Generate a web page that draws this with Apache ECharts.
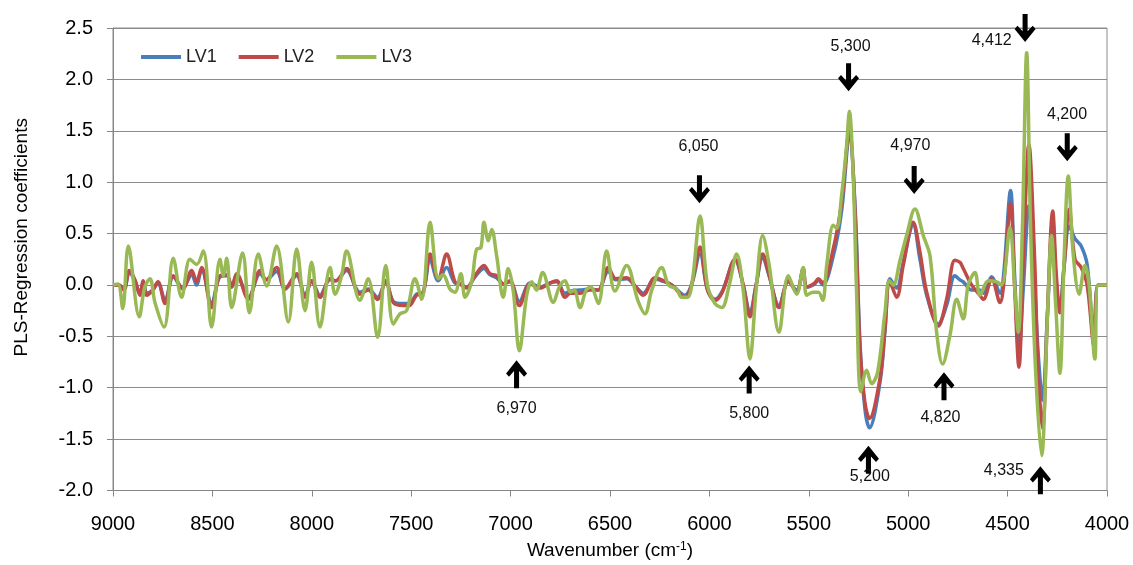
<!DOCTYPE html>
<html>
<head>
<meta charset="utf-8">
<script src="https://cdn.jsdelivr.net/npm/echarts@6/dist/echarts.min.js"></script>
<style>
  html, body { margin: 0; padding: 0; background: #fff; }
  #chart { width: 1133px; height: 565px; }
</style>
</head>
<body>
<div id="chart"></div>
<script>
// Wavenumbers (cm-1) and PLS regression coefficients, LV3 model
const wnLV3 = [9000, 8975, 8951, 8923, 8868, 8840, 8814, 8789, 8743, 8697, 8655, 8613, 8579, 8546, 8504, 8462, 8445, 8428, 8403, 8348,
  8314, 8269, 8227, 8177, 8118, 8076, 8034, 8001, 7959, 7908, 7883, 7850, 7825, 7758, 7716, 7669, 7628, 7590, 7556, 7523,
  7481, 7447, 7405, 7364, 7340, 7305, 7280, 7250, 7229, 7196, 7171, 7150, 7134, 7112, 7095, 7070, 7037, 7012, 6986, 6956,
  6919, 6894, 6870, 6839, 6785, 6755, 6726, 6700, 6680, 6651, 6620, 6597, 6559, 6517, 6475, 6416, 6360, 6324, 6290, 6240,
  6205, 6165, 6140, 6110, 6085, 6047, 6010, 5972, 5938, 5900, 5863, 5830, 5796, 5765, 5732, 5700, 5650, 5603, 5561, 5528,
  5511, 5480, 5452, 5430, 5410, 5377, 5360, 5335, 5310, 5296, 5276, 5260, 5238, 5209, 5184, 5154, 5117, 5095, 5075, 5041,
  5008, 4966, 4924, 4890, 4857, 4827, 4790, 4756, 4723, 4698, 4664, 4639, 4597, 4555, 4530, 4488, 4465, 4446, 4425, 4404,
  4385, 4360, 4329, 4300, 4279, 4258, 4237, 4215, 4195, 4170, 4140, 4111, 4090, 4061, 4044, 4000];
const lv3 = [0, 0.01, -0.23, 0.38, -0.31, -0.02, 0.06, -0.17, -0.41, 0.26, -0.12, 0.25, 0.20, 0.33, -0.41, 0.25, 0.09, 0.26, -0.22, 0.31,
  -0.27, 0.30, -0.01, 0.38, -0.36, 0.35, -0.25, 0.22, -0.41, 0.17, -0.09, 0.09, 0.33, -0.15, 0.06, -0.51, 0.19, -0.38, -0.28, -0.25,
  0.06, -0.14, 0.61, 0.06, 0.10, -0.04, -0.07, 0.11, -0.12, 0.03, 0.35, 0.36, 0.61, 0.43, 0.54, 0.28, -0.12, 0.16, -0.07, -0.64,
  -0.10, 0.03, -0.05, 0.12, -0.17, -0.02, 0.04, -0.07, -0.05, -0.22, -0.05, -0.02, -0.18, 0.33, -0.06, 0.19, -0.15, -0.28, -0.05, 0.17,
  0.0, -0.04, -0.12, -0.12, 0.05, 0.67, 0.0, -0.18, -0.22, 0.0, 0.30, -0.05, -0.72, -0.05, 0.48, 0.20, -0.46, 0.09, -0.09, 0.17,
  -0.10, -0.07, -0.07, -0.15, 0.19, 0.58, 0.55, 0.87, 1.35, 1.69, 1.03, -0.05, -1.04, -0.83, -0.96, -0.85, -0.27, 0.04, 0.0, 0.24,
  0.48, 0.74, 0.48, 0.28, -0.46, -0.77, -0.49, -0.14, -0.33, 0.0, 0.12, -0.10, 0.04, 0.03, 0.0, 0.56, 0.0, -0.46, 0.60, 2.26,
  0.60, -0.80, -1.66, -0.33, 0.48, -0.20, -0.86, 0.30, 1.06, 0.30, -0.09, 0.19, 0.0, -0.72, 0.0, 0.0];

// Wavenumbers shared by the LV1 and LV2 models
const wnLV12 = [9000, 8970, 8945, 8918, 8890, 8864, 8848, 8830, 8800, 8774, 8738, 8697, 8649, 8604, 8580, 8554, 8504, 8462, 8428, 8403,
  8378, 8319, 8260, 8230, 8177, 8135, 8076, 8034, 8001, 7959, 7908, 7880, 7825, 7758, 7716, 7669, 7628, 7590, 7540, 7510,
  7473, 7440, 7405, 7364, 7322, 7280, 7255, 7221, 7179, 7134, 7104, 7070, 7037, 7003, 6956, 6902, 6852, 6800, 6768, 6726,
  6700, 6651, 6600, 6560, 6509, 6470, 6416, 6370, 6333, 6274, 6240, 6190, 6123, 6090, 6047, 6010, 5972, 5935, 5871, 5830,
  5796, 5765, 5732, 5700, 5650, 5603, 5561, 5528, 5511, 5470, 5452, 5430, 5377, 5335, 5296, 5267, 5243, 5218, 5195, 5142,
  5117, 5092, 5058, 5025, 4975, 4941, 4907, 4849, 4807, 4765, 4740, 4723, 4681, 4640, 4622, 4580, 4538, 4520, 4485, 4465,
  4443, 4420, 4393, 4365, 4345, 4324, 4300, 4273, 4255, 4237, 4215, 4190, 4161, 4130, 4100, 4065, 4044, 4000];
const lv2 = [0, 0.0, -0.05, 0.14, 0.05, -0.10, 0.04, -0.10, -0.05, 0.03, -0.18, 0.09, -0.04, 0.14, 0.03, 0.17, -0.22, 0.09, 0.10, -0.02,
  0.11, -0.14, 0.14, 0.05, 0.17, -0.04, 0.11, -0.12, 0.04, -0.12, 0.06, 0.04, 0.16, -0.09, -0.05, -0.14, 0.04, -0.17, -0.20, -0.20,
  -0.10, -0.08, 0.30, 0.06, 0.30, 0.03, 0.01, -0.03, 0.09, 0.19, 0.11, 0.09, 0.01, 0.04, -0.20, 0.01, -0.03, 0.02, 0.04, -0.12,
  -0.08, -0.08, -0.05, -0.05, 0.17, 0.06, 0.07, -0.02, -0.10, 0.07, 0.05, 0.0, -0.12, 0.0, 0.37, -0.05, -0.15, -0.07, 0.25, 0.0,
  -0.31, 0.0, 0.30, 0.10, -0.22, 0.04, -0.07, 0.16, -0.02, 0.02, 0.06, 0.02, 0.35, 0.80, 1.51, 0.70, -0.59, -1.14, -1.30, -0.91,
  -0.43, 0.03, -0.12, 0.19, 0.61, 0.32, -0.07, -0.40, -0.14, 0.24, 0.22, 0.16, 0.0, -0.10, -0.14, 0.06, -0.17, 0.0, 0.79, 0.0,
  -0.80, 0.30, 1.37, 0.30, -0.90, -1.40, -0.30, 0.72, 0.10, -0.27, 0.20, 0.74, 0.25, 0.17, 0.0, -0.60, 0.0, 0.0];
const lv1 = [0, 0.0, -0.04, 0.12, 0.04, -0.09, 0.03, -0.08, -0.05, 0.02, -0.15, 0.08, -0.03, 0.10, 0.0, 0.15, -0.18, 0.08, 0.09, -0.02,
  0.10, -0.12, 0.11, 0.05, 0.13, -0.04, 0.09, -0.10, 0.04, -0.10, 0.05, 0.04, 0.14, -0.07, -0.04, -0.12, 0.03, -0.16, -0.18, -0.18,
  -0.09, -0.07, 0.25, 0.04, 0.17, 0.02, 0.01, -0.02, 0.08, 0.16, 0.10, 0.07, 0.01, 0.03, -0.16, 0.02, -0.02, 0.02, 0.03, -0.08,
  -0.06, -0.05, -0.04, -0.05, 0.13, 0.05, 0.06, -0.02, -0.08, 0.06, 0.04, 0.0, -0.10, 0.0, 0.30, -0.04, -0.14, -0.06, 0.24, 0.0,
  -0.27, 0.0, 0.27, 0.09, -0.20, 0.03, -0.05, 0.14, -0.02, 0.01, 0.05, 0.0, 0.28, 0.72, 1.45, 0.75, -0.55, -1.20, -1.39, -0.95,
  -0.45, 0.06, -0.03, 0.22, 0.58, 0.25, -0.10, -0.38, -0.20, 0.09, 0.05, 0.03, -0.05, -0.05, -0.08, 0.08, -0.08, 0.10, 0.92, 0.10,
  -0.65, 0.0, 0.77, 0.0, -0.70, -1.12, -0.30, 0.62, 0.0, -0.22, 0.20, 0.57, 0.45, 0.38, 0.20, -0.50, 0.0, 0.0];

// Assigned bands: arrow direction, arrow centre and caption position (axis units)
const bands = [
  { wn: 6970, dir: 'up',   arrowAt: -0.87, textWn: 6970, textAt: -1.20 },
  { wn: 6050, dir: 'down', arrowAt: 0.93,  textWn: 6055, textAt: 1.35 },
  { wn: 5800, dir: 'up',   arrowAt: -0.92, textWn: 5800, textAt: -1.25 },
  { wn: 5300, dir: 'down', arrowAt: 2.02,  textWn: 5290, textAt: 2.32 },
  { wn: 5200, dir: 'up',   arrowAt: -1.70, textWn: 5193, textAt: -1.86 },
  { wn: 4970, dir: 'down', arrowAt: 1.02,  textWn: 4989, textAt: 1.36 },
  { wn: 4820, dir: 'up',   arrowAt: -0.985, textWn: 4838, textAt: -1.29 },
  { wn: 4412, dir: 'down', arrowAt: 2.50,  textWn: 4580, textAt: 2.38 },
  { wn: 4200, dir: 'down', arrowAt: 1.34,  textWn: 4201, textAt: 1.66 },
  { wn: 4335, dir: 'up',   arrowAt: -1.90, textWn: 4519, textAt: -1.81 }
];

const FONT = '"Liberation Sans", Arial, sans-serif';
const ARROW_DOWN = 'path://M9.5 0 H15.5 V18.5 L21.5 12.5 L25 16 L12.5 30 L0 16 L3.5 12.5 L9.5 18.5 Z';
const ARROW_UP = 'path://M9.5 30 H15.5 V11.5 L21.5 17.5 L25 14 L12.5 0 L0 14 L3.5 17.5 L9.5 11.5 Z';

const pairs = (xs, ys) => xs.map((x, i) => [x, ys[i]]);
const thousands = n => String(n).replace(/\B(?=(\d{3})+(?!\d))/g, ',');

function lineSeries(name, xs, ys, color) {
  return {
    name: name,
    type: 'line',
    data: pairs(xs, ys),
    showSymbol: false,
    smooth: 0.35,
    lineStyle: { width: 3.5, color: color },
    itemStyle: { color: color },
    emphasis: { disabled: true }
  };
}

const sLV1 = lineSeries('LV1', wnLV12, lv1, '#4A7EBB');
const sLV2 = lineSeries('LV2', wnLV12, lv2, '#BE4B48');
const sLV3 = lineSeries('LV3', wnLV3, lv3, '#98B954');

// Band captions
sLV2.markPoint = {
  symbol: 'circle',
  symbolSize: 1,
  itemStyle: { color: 'rgba(0,0,0,0)' },
  label: {
    show: true, position: 'inside', color: '#111', fontSize: 16, fontFamily: FONT,
    formatter: p => thousands(p.value)
  },
  emphasis: { disabled: true },
  data: bands.map(b => ({ coord: [b.textWn, b.textAt], value: b.wn }))
};

// Band arrows
sLV3.markPoint = {
  symbolSize: [21, 28],
  itemStyle: { color: '#000' },
  label: { show: false },
  emphasis: { disabled: true },
  data: bands.map(b => ({ coord: [b.wn, b.arrowAt], symbol: b.dir === 'up' ? ARROW_UP : ARROW_DOWN }))
};

const chart = echarts.init(document.getElementById('chart'));
chart.setOption({
  animation: false,
  backgroundColor: '#fff',
  textStyle: { fontFamily: FONT },
  grid: { left: 113, right: 26, top: 28, bottom: 74, show: true, borderColor: '#8c8c8c', borderWidth: 1 },
  legend: {
    data: ['LV1', 'LV2', 'LV3'],
    left: 136, top: 43,
    icon: 'rect', itemWidth: 40, itemHeight: 4, itemGap: 22,
    textStyle: { fontSize: 18, color: '#222', fontFamily: FONT }
  },
  xAxis: {
    type: 'value', min: 4000, max: 9000, interval: 500, inverse: true,
    axisLine: { onZero: false, lineStyle: { color: '#868686' } },
    axisTick: { length: 6, lineStyle: { color: '#868686' } },
    axisLabel: { fontSize: 20, color: '#000', margin: 24, fontFamily: FONT, formatter: v => String(v) },
    splitLine: { show: false },
    name: 'Wavenumber (cm{sup|-1})',
    nameLocation: 'middle', nameGap: 50,
    nameTextStyle: {
      fontSize: 19, color: '#000', fontFamily: FONT,
      rich: { sup: { fontSize: 12, verticalAlign: 'top', padding: [0, 0, 8, 0], fontFamily: FONT, color: '#000' } }
    }
  },
  yAxis: {
    type: 'value', min: -2, max: 2.5, interval: 0.5,
    axisLine: { show: true, onZero: false, lineStyle: { color: '#868686' } },
    axisTick: { show: true, length: 6, lineStyle: { color: '#868686' } },
    axisLabel: { fontSize: 20, color: '#000', margin: 20, fontFamily: FONT, formatter: v => v.toFixed(1) },
    splitLine: { lineStyle: { color: '#8c8c8c', width: 1 } },
    name: 'PLS-Regression coefficients',
    nameLocation: 'middle', nameGap: 82,
    nameTextStyle: { fontSize: 19, color: '#000', fontFamily: FONT, padding: [0, 0, 0, 44] }
  },
  series: [sLV1, sLV2, sLV3]
});
</script>
</body>
</html>
